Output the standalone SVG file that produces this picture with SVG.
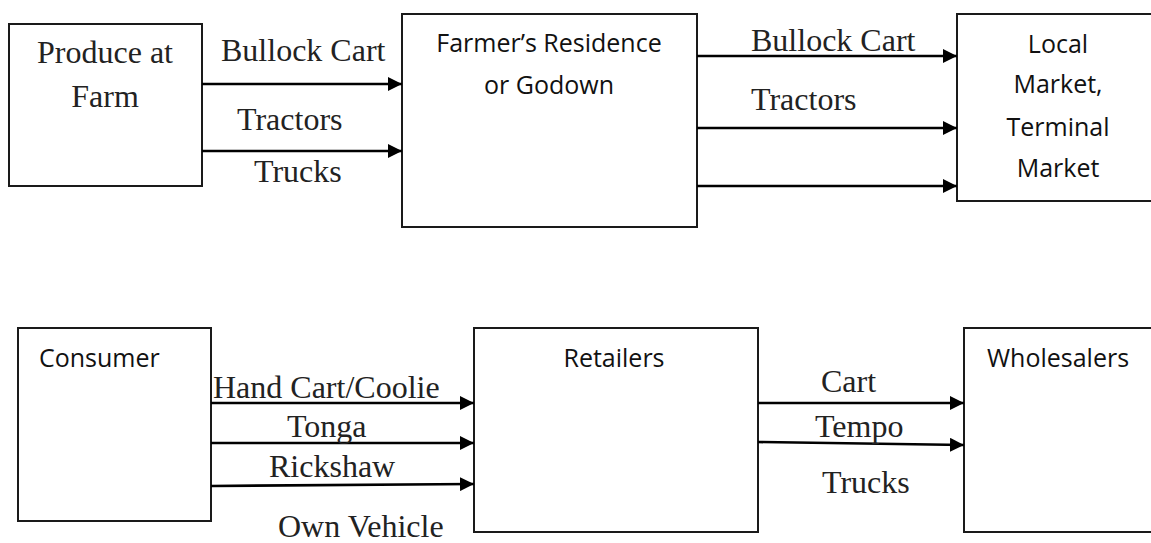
<svg xmlns="http://www.w3.org/2000/svg" width="1151" height="543" viewBox="0 0 1151 543">
<style>
.box{fill:#fff;stroke:#1a1a1a;stroke-width:2}
.sans{font-family:"Open Sans","Liberation Sans",sans-serif;font-size:25px;fill:#111}
.serif{font-family:"Liberation Serif","DejaVu Serif",serif;font-size:32px;fill:#222}
.conn{stroke:#000;stroke-width:2.6;fill:none;marker-end:url(#ah)}
</style>
<defs>
<marker id="ah" markerUnits="userSpaceOnUse" markerWidth="14" markerHeight="14" refX="14" refY="7" orient="auto" viewBox="0 0 14 14">
<path d="M0,0 L14,7 L0,14 z" fill="#000"/>
</marker>
</defs>
<rect width="1151" height="543" fill="#fff"/>

<g id="produce">
<rect class="box" x="9" y="24" width="193" height="162"/>
<text class="serif" x="105" y="63" text-anchor="middle">Produce at</text>
<text class="serif" x="105" y="107" text-anchor="middle">Farm</text>
</g>

<g id="residence">
<rect class="box" x="402" y="14" width="295" height="213"/>
<text class="sans" x="549" y="52" text-anchor="middle">Farmer’s Residence</text>
<text class="sans" x="549" y="94" text-anchor="middle">or Godown</text>
</g>

<g id="local-market">
<rect class="box" x="957" y="14" width="200" height="187"/>
<text class="sans" x="1058" y="53" text-anchor="middle">Local</text>
<text class="sans" x="1058" y="93" text-anchor="middle">Market,</text>
<text class="sans" x="1058" y="136" text-anchor="middle">Terminal</text>
<text class="sans" x="1058" y="177" text-anchor="middle">Market</text>
</g>

<g id="consumer">
<rect class="box" x="18" y="328" width="193" height="193"/>
<text class="sans" x="39" y="367">Consumer</text>
</g>

<g id="retailers">
<rect class="box" x="474" y="328" width="284" height="204"/>
<text class="sans" x="614" y="367" text-anchor="middle">Retailers</text>
</g>

<g id="wholesalers">
<rect class="box" x="964" y="328" width="200" height="204"/>
<text class="sans" x="987" y="367">Wholesalers</text>
</g>

<g id="connectors">
<line class="conn" x1="202" y1="84" x2="402" y2="84"/>
<line class="conn" x1="202" y1="151" x2="402" y2="151"/>
<line class="conn" x1="697" y1="56" x2="957" y2="56"/>
<line class="conn" x1="697" y1="128" x2="957" y2="128"/>
<line class="conn" x1="697" y1="186" x2="957" y2="186"/>
<line class="conn" x1="211" y1="403" x2="474" y2="403"/>
<line class="conn" x1="211" y1="443" x2="474" y2="443"/>
<line class="conn" x1="211" y1="486" x2="474" y2="484"/>
<line class="conn" x1="758" y1="403" x2="964" y2="403"/>
<line class="conn" x1="758" y1="442" x2="964" y2="445"/>
</g>

<g id="labels">
<text class="serif" x="221" y="61">Bullock Cart</text>
<text class="serif" x="237" y="130">Tractors</text>
<text class="serif" x="254" y="182">Trucks</text>
<text class="serif" x="751" y="51">Bullock Cart</text>
<text class="serif" x="751" y="110">Tractors</text>
<text class="serif" x="213" y="398">Hand Cart/Coolie</text>
<text class="serif" x="287" y="437">Tonga</text>
<text class="serif" x="269" y="477">Rickshaw</text>
<text class="serif" x="278" y="537">Own Vehicle</text>
<text class="serif" x="821" y="392">Cart</text>
<text class="serif" x="815" y="437">Tempo</text>
<text class="serif" x="822" y="493">Trucks</text>
</g>
</svg>
